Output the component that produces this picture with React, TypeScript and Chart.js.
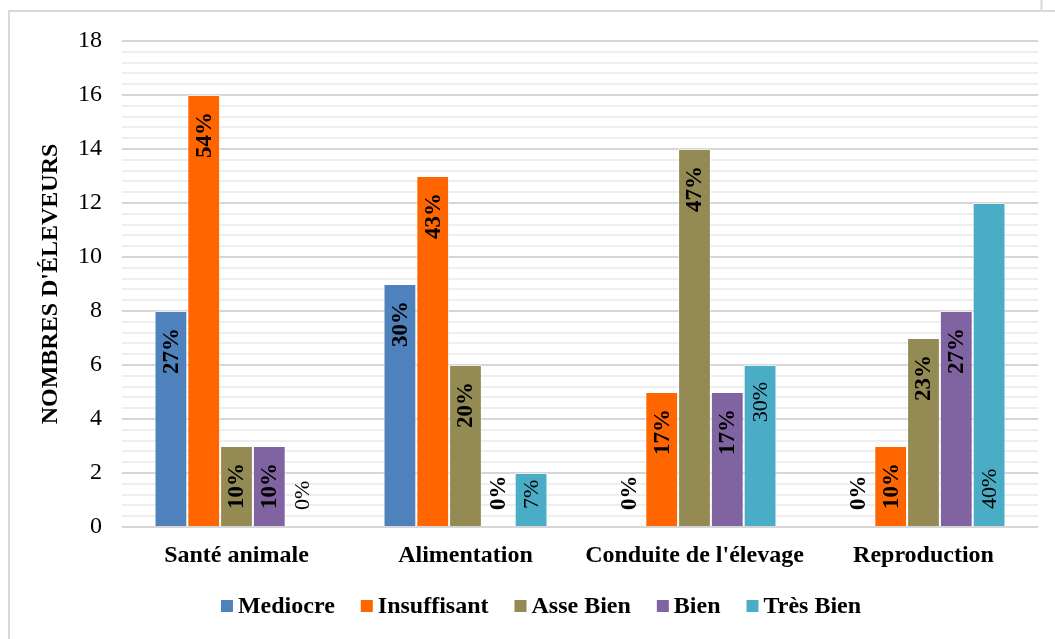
import React, { useEffect, useRef } from "react";
import { Chart, registerables } from "chart.js";

Chart.register(...registerables);

// Survey results: number of breeders per rating, for each management area
const categories = ["Santé animale", "Alimentation", "Conduite de l'élevage", "Reproduction"];
const seriesNames = ["Mediocre", "Insuffisant", "Asse Bien", "Bien", "Très Bien"];

const mediocre = [8, 9, 0, 0];
const insuffisant = [16, 13, 5, 3];
const asseBien = [3, 6, 14, 7];
const bien = [3, 0, 5, 8];
const tresBien = [0, 2, 6, 12];

// Share of breeders written on each bar
const mediocrePct = ["27%", "30%", "0%", "0%"];
const insuffisantPct = ["54%", "43%", "17%", "10%"];
const asseBienPct = ["10%", "20%", "47%", "23%"];
const bienPct = ["10%", "0%", "17%", "27%"];
const tresBienPct = ["0%", "7%", "30%", "40%"];

const yTickValues = [0, 2, 4, 6, 8, 10, 12, 14, 16, 18];

const W = 1055;
const H = 639;
const FONT = '"Liberation Serif", "Times New Roman", serif';

const colors = ["#4f81bd", "#ff6600", "#948a54", "#8064a2", "#4bacc6"];

// Rotated percentage labels drawn inside each bar
const barLabels = {
  id: "barLabels",
  afterDatasetsDraw(chart: any) {
    const { ctx } = chart;
    const pad = 17;
    chart.data.datasets.forEach((ds: any, di: number) => {
      const meta = chart.getDatasetMeta(di);
      ctx.save();
      ctx.fillStyle = "#000";
      ctx.font = `${ds.labelBold ? "bold " : ""}${ds.labelBold ? 23 : 22}px ${FONT}`;
      ctx.textBaseline = "middle";
      meta.data.forEach((bar: any, i: number) => {
        const text = ds.pctLabels[i];
        const w = ctx.measureText(text).width;
        const { x, y, base } = bar.getProps(["x", "y", "base"], true);
        const anchor = ds.labelAnchor ? ds.labelAnchor[i] : "auto";
        let bottom = y + pad + w;
        if (anchor === "start" || bottom > base - pad) bottom = base - pad;
        ctx.save();
        ctx.translate(x + 1, bottom);
        ctx.rotate(-Math.PI / 2);
        ctx.textAlign = "left";
        ctx.fillText(text, 0, 0);
        ctx.restore();
      });
      ctx.restore();
    });
  },
};

// Legend row under the axis and the outline of the chart frame
const legendAndFrame = {
  id: "legendAndFrame",
  afterDraw(chart: any) {
    const { ctx } = chart;
    ctx.save();
    ctx.strokeStyle = "#d9d9d9";
    ctx.lineWidth = 2;
    ctx.beginPath();
    ctx.moveTo(8, 11);
    ctx.lineTo(W, 11);
    ctx.moveTo(9, 10);
    ctx.lineTo(9, H);
    ctx.moveTo(1041.5, 0);
    ctx.lineTo(1041.5, 10);
    ctx.stroke();

    ctx.font = `bold 24px ${FONT}`;
    const box = 12;
    const gapText = 5;
    const gapItem = 26;
    const widths = seriesNames.map((n) => ctx.measureText(n).width);
    const total =
      widths.reduce((a, b) => a + b, 0) + seriesNames.length * (box + gapText) + (seriesNames.length - 1) * gapItem;
    let x = 541 - total / 2;
    const baseline = 613;
    ctx.textBaseline = "alphabetic";
    ctx.textAlign = "left";
    seriesNames.forEach((n, i) => {
      ctx.fillStyle = colors[i];
      ctx.fillRect(x, 600, box, box);
      x += box + gapText;
      ctx.fillStyle = "#000";
      ctx.fillText(n, x, baseline);
      x += widths[i] + gapItem;
    });
    ctx.restore();
  },
};

const isMajor = (v: number) => yTickValues.some((t) => Math.abs(t - v) < 1e-6);

export default function App() {
  const canvasRef = useRef<HTMLCanvasElement | null>(null);

  useEffect(() => {
    if (!canvasRef.current) return;
    const values = [mediocre, insuffisant, asseBien, bien, tresBien];
    const pcts = [mediocrePct, insuffisantPct, asseBienPct, bienPct, tresBienPct];
    const chart = new Chart(canvasRef.current, {
      type: "bar",
      data: {
        labels: categories,
        datasets: seriesNames.map((name, i) => ({
          label: name,
          data: values[i],
          backgroundColor: colors[i],
          borderColor: "rgba(255,255,255,0.55)",
          borderWidth: 1,
          categoryPercentage: 0.716,
          barPercentage: 1,
          pctLabels: pcts[i],
          labelBold: i !== 4,
          labelAnchor: i === 4 ? ["auto", "auto", "auto", "start"] : undefined,
        })) as any,
      },
      options: {
        responsive: false,
        animation: false,
        devicePixelRatio: 1,
        layout: { padding: { top: 41, right: 17, bottom: 0, left: 0 } },
        plugins: {
          legend: { display: false },
          tooltip: { enabled: false },
        },
        scales: {
          x: {
            grid: { display: false, drawTicks: false },
            border: { display: false },
            ticks: {
              color: "#000",
              padding: 14,
              font: { family: FONT, size: 24, weight: "bold" },
            },
            afterFit: (s: any) => {
              s.height = H - 527;
            },
          },
          y: {
            min: 0,
            max: 18,
            border: { display: false },
            grid: {
              drawTicks: false,
              color: (c: any) => (isMajor(c.tick.value) ? "#d6d6d6" : "#eeeeee"),
              lineWidth: 2,
            },
            ticks: {
              stepSize: 0.4,
              autoSkip: false,
              padding: 20,
              color: "#000",
              font: { family: FONT, size: 24 },
              callback: (v: any) => (isMajor(Number(v)) ? String(Math.round(Number(v))) : ""),
            },
            title: {
              display: true,
              text: "NOMBRES D'ÉLEVEURS",
              color: "#000",
              font: { family: FONT, size: 24, weight: "bold" },
              padding: { top: 36, bottom: 0 },
            },
            afterFit: (s: any) => {
              s.width = 122;
            },
          },
        },
      } as any,
      plugins: [barLabels, legendAndFrame],
    });
    return () => chart.destroy();
  }, []);

  return (
    <div style={{ position: "fixed", left: 0, top: 0, width: W, height: H, background: "#fff" }}>
      <canvas ref={canvasRef} width={W} height={H} style={{ display: "block", width: W, height: H }} />
    </div>
  );
}
